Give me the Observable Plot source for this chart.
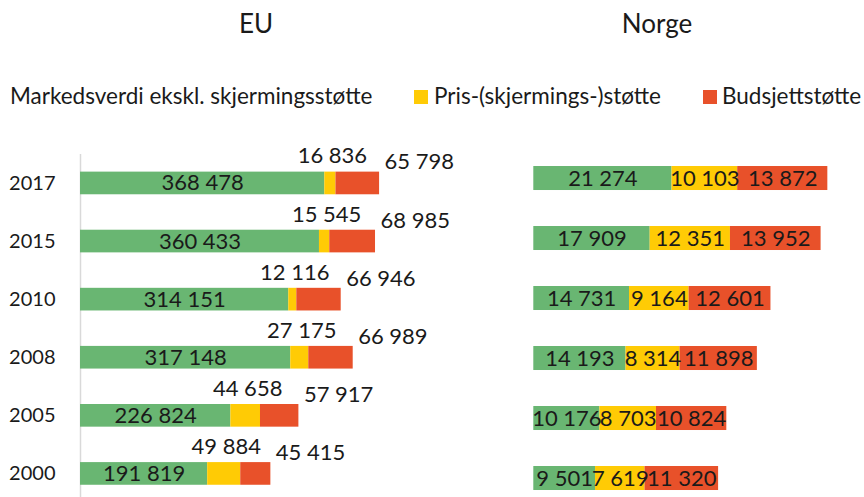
<!DOCTYPE html>
<html>
<head>
<meta charset="utf-8">
<script src="https://cdn.jsdelivr.net/npm/d3@7"></script>
<script src="https://cdn.jsdelivr.net/npm/@observablehq/plot@0.6"></script>
<style>
  html, body { margin: 0; padding: 0; background: #fff; }
  #root { position: relative; width: 864px; height: 497px; font-family: Lato, "Open Sans", sans-serif; color: #1a1a1a; overflow: hidden; }
  #root svg { position: absolute; top: 0; overflow: visible; }
  .t { position: absolute; white-space: nowrap; line-height: 1; }
  .title { font-size: 26px; }
  .leg { font-size: 22.5px; }
  .sw { position: absolute; width: 14px; height: 14px; }
</style>
</head>
<body>
<div id="root"></div>
<script>
// ---- data ----
const years = ["2017", "2015", "2010", "2008", "2005", "2000"];
const seriesNames = ["Markedsverdi ekskl. skjermingsstøtte", "Pris-(skjermings-)støtte", "Budsjettstøtte"];
const seriesColors = ["#69b672", "#ffcb05", "#e8512a"];
const euMarked    = [368478, 360433, 314151, 317148, 226824, 191819];
const euPris      = [16836, 15545, 12116, 27175, 44658, 49884];
const euBudsjett  = [65798, 68985, 66946, 66989, 57917, 45415];
const noMarked    = [21274, 17909, 14731, 14193, 10176, 9501];
const noPris      = [10103, 12351, 9164, 8314, 8703, 7619];
const noBudsjett  = [13872, 13952, 12601, 11898, 10824, 11320];
const panelTitles = ["EU", "Norge"];

const fmt = d3.formatLocale({decimal: ",", thousands: "\u00a0", grouping: [3], currency: ["", ""]}).format(",d");

function rows(a, b, c) {
  const out = [];
  years.forEach((y, i) => {
    out.push({year: y, series: seriesNames[0], value: a[i]});
    out.push({year: y, series: seriesNames[1], value: b[i]});
    out.push({year: y, series: seriesNames[2], value: c[i]});
  });
  return out;
}
const euData = rows(euMarked, euPris, euBudsjett);
const noData = rows(noMarked, noPris, noBudsjett);

const root = document.getElementById("root");
const color = {domain: seriesNames, range: seriesColors};
const textFill = "#1a1a1a";
const labelSize = 22;

// ---- EU panel ----
const eu = Plot.plot({
  width: 432, height: 497,
  marginTop: 154, marginBottom: 0, marginLeft: 80, marginRight: 20.5,
  style: {fontFamily: "Lato, 'Open Sans', sans-serif", fontSize: "20px", color: textFill, background: "transparent"},
  x: {domain: [0, 500000], axis: null},
  y: {domain: years, paddingInner: 0.61, paddingOuter: 0.257, align: 0.59, round: false, label: null, tickSize: 0, tickPadding: 25},
  color,
  marks: [
    Plot.ruleX([0], {stroke: "#d9d9d9", strokeWidth: 1.5}),
    Plot.barX(euData, Plot.stackX({x: "value", y: "year", fill: "series", order: seriesNames})),
    Plot.text(euData, Plot.stackX({x: "value", y: "year", z: "series", order: seriesNames,
      text: d => d.series === seriesNames[0] ? fmt(d.value) : "", fill: textFill, fontSize: labelSize})),
    Plot.text(euData, Plot.stackX({x: "value", y: "year", z: "series", order: seriesNames,
      text: d => d.series === seriesNames[1] ? fmt(d.value) : "", fill: textFill, fontSize: labelSize, dx: 2, dy: -27})),
    Plot.text(euData, Plot.stackX2({x: "value", y: "year", z: "series", order: seriesNames,
      text: d => d.series === seriesNames[2] ? fmt(d.value) : "", fill: textFill, fontSize: labelSize, textAnchor: "start", dx: 5, dy: -21}))
  ]
});
eu.style.left = "0px";
root.appendChild(eu);

// ---- Norge panel ----
const no = Plot.plot({
  width: 432, height: 497,
  marginTop: 150, marginBottom: 0, marginLeft: 101.3, marginRight: 5.8,
  style: {fontFamily: "Lato, 'Open Sans', sans-serif", fontSize: "20px", color: textFill, background: "transparent"},
  x: {domain: [0, 50000], axis: null},
  y: {domain: years, paddingInner: 0.6, paddingOuter: 0.1917, align: 0.696, round: false, axis: null},
  color,
  marks: [
    Plot.barX(noData, Plot.stackX({x: "value", y: "year", fill: "series", order: seriesNames})),
    Plot.text(noData, Plot.stackX({x: "value", y: "year", z: "series", order: seriesNames,
      text: d => fmt(d.value), fill: textFill, fontSize: labelSize}))
  ]
});
no.style.left = "432px";
root.appendChild(no);

// ---- titles ----
function addText(txt, cls, left, top, extra) {
  const d = document.createElement("div");
  d.className = "t " + cls;
  d.textContent = txt;
  d.style.left = left + "px";
  d.style.top = top + "px";
  if (extra) Object.assign(d.style, extra);
  root.appendChild(d);
  return d;
}
addText(panelTitles[0], "title", 256, 10, {transform: "translateX(-50%)"});
addText(panelTitles[1], "title", 657, 10, {transform: "translateX(-50%)"});

// ---- legend ----
addText(seriesNames[0], "leg", 10, 84.5);
const legPos = [[414, 434], [703, 722]];
[1, 2].forEach((k, j) => {
  const s = document.createElement("div");
  s.className = "sw";
  s.style.left = legPos[j][0] + "px";
  s.style.top = "90px";
  s.style.background = seriesColors[k];
  root.appendChild(s);
  addText(seriesNames[k], "leg", legPos[j][1], 84.5);
});
</script>
</body>
</html>
